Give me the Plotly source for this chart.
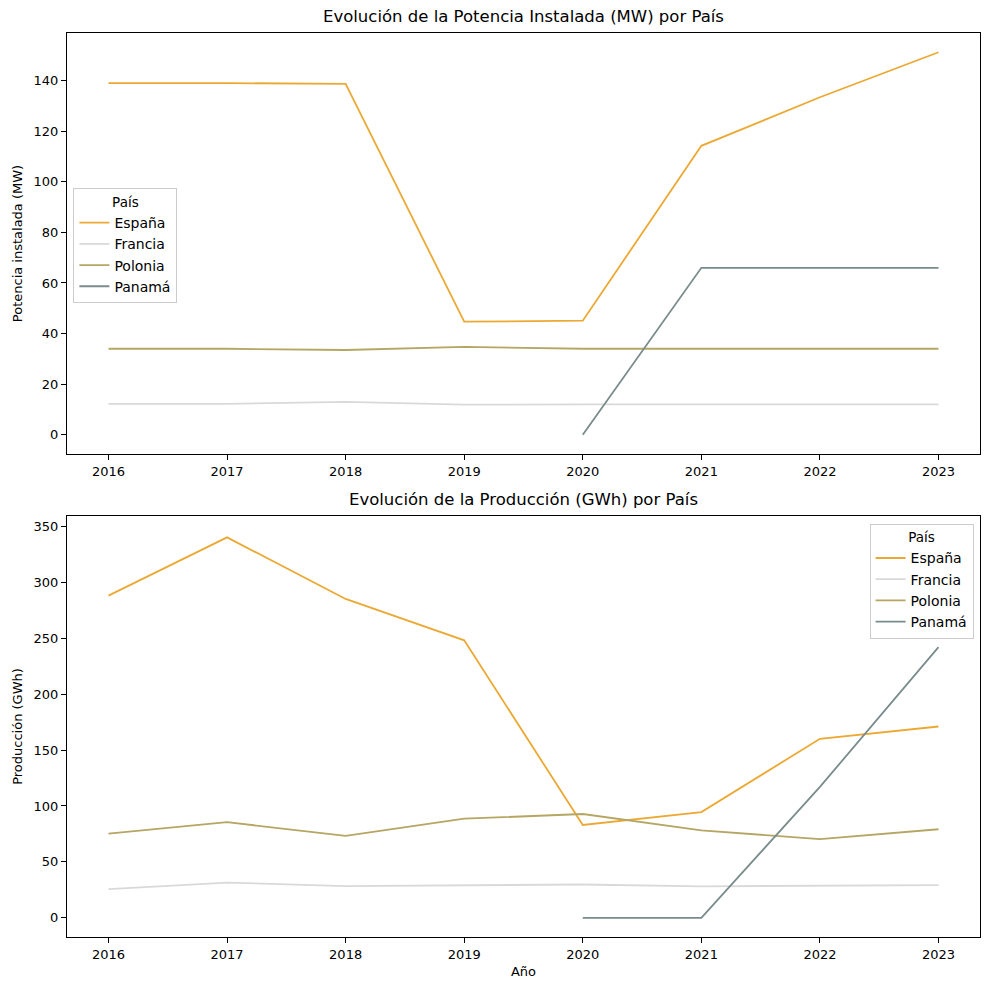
import plotly.graph_objects as go
from plotly.subplots import make_subplots

years = [2016, 2017, 2018, 2019, 2020, 2021, 2022, 2023]
years_pan = [2020, 2021, 2022, 2023]

# potencia instalada (MW)
pot_espana = [139.0, 139.0, 138.7, 44.7, 45.1, 114.2, 133.4, 151.2]
pot_francia = [12.2, 12.2, 13.0, 11.9, 12.0, 12.0, 12.0, 12.0]
pot_polonia = [34.0, 34.0, 33.5, 34.7, 34.0, 34.0, 34.0, 34.0]
pot_panama = [0.0, 66.0, 66.0, 66.0]

# produccion (GWh)
prod_espana = [288.0, 340.0, 285.0, 248.0, 83.0, 94.5, 160.0, 171.0]
prod_francia = [25.7, 31.5, 28.4, 29.0, 29.8, 28.2, 28.4, 29.2]
prod_polonia = [75.3, 85.5, 73.3, 88.6, 92.8, 78.2, 70.3, 79.2]
prod_panama = [0.0, 0.0, 117.0, 242.0]

paises = ["España", "Francia", "Polonia", "Panamá"]
colores = ["#EBA934", "#D9D9D9", "#B5A664", "#798B8B"]

fig = make_subplots(rows=2, cols=1,
                    subplot_titles=["Evolución de la Potencia Instalada (MW) por País",
                                    "Evolución de la Producción (GWh) por País"])

top = [(years, pot_espana), (years, pot_francia), (years, pot_polonia), (years_pan, pot_panama)]
bot = [(years, prod_espana), (years, prod_francia), (years, prod_polonia), (years_pan, prod_panama)]

for i, (x, y) in enumerate(top):
    fig.add_trace(go.Scatter(x=x, y=y, mode="lines", name=paises[i],
                             line=dict(color=colores[i], width=1.8),
                             legend="legend"), row=1, col=1)
for i, (x, y) in enumerate(bot):
    fig.add_trace(go.Scatter(x=x, y=y, mode="lines", name=paises[i],
                             line=dict(color=colores[i], width=1.8),
                             legend="legend2"), row=2, col=1)

axis_style = dict(showgrid=False, zeroline=False, showline=True, linecolor="black",
                  linewidth=1, mirror=True, ticks="outside", ticklen=5,
                  tickcolor="black", tickfont=dict(size=13, color="black"),
                  automargin=False)

fig.update_xaxes(**axis_style, range=[2015.65, 2023.35], dtick=1)
fig.update_yaxes(**axis_style)
fig.update_xaxes(domain=[0, 1])
fig.update_yaxes(domain=[0.5343, 1], range=[-7.6, 158.8], dtick=20, row=1, col=1)
fig.update_yaxes(domain=[0, 0.4657], range=[-17.1, 359.1], dtick=50, row=2, col=1)

fig.update_yaxes(title_text="Potencia instalada (MW)", title_font=dict(size=13),
                 title_standoff=8, row=1, col=1)
fig.update_yaxes(title_text="Producción (GWh)", title_font=dict(size=13),
                 title_standoff=8, row=2, col=1)
fig.update_xaxes(title_text="Año", title_font=dict(size=13), title_standoff=6, row=2, col=1)

# move subplot titles
for ann, yy in zip(fig.layout.annotations, [1.0, 0.4657]):
    ann.y = yy
    ann.yshift = 5
    ann.font = dict(size=16.5, color="black")

legend_style = dict(title=dict(text="País", side="top center", font=dict(size=13.5)),
                    bgcolor="rgba(255,255,255,0.8)", bordercolor="#CCCCCC",
                    borderwidth=1, font=dict(size=14, color="black"))

# page body has an 8px margin, so the figure is a bit smaller
fig.update_layout(
    width=982, height=982,
    margin=dict(l=59, r=10, t=25, b=53),
    plot_bgcolor="white", paper_bgcolor="white",
    font=dict(family="DejaVu Sans", color="black", size=13),
    legend=dict(**legend_style, x=0.007, y=0.828, xanchor="left", yanchor="top"),
    legend2=dict(**legend_style, x=0.993, y=0.457, xanchor="right", yanchor="top"),
)

fig.write_html("out.html")
